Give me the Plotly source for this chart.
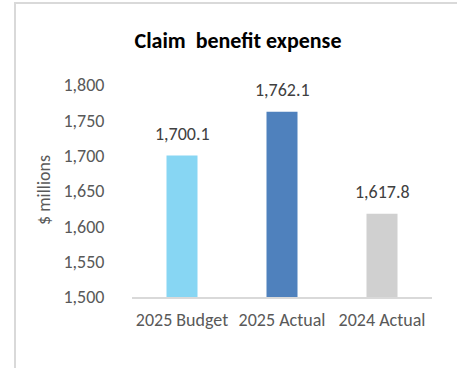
import plotly.graph_objects as go

categories = ["2025 Budget", "2025 Actual", "2024 Actual"]
values = [1700.1, 1762.1, 1617.8]
labels = ["1,700.1", "1,762.1", "1,617.8"]
colors = ["#87D6F3", "#4F81BD", "#D0D0D0"]
tick_vals = [1500, 1550, 1600, 1650, 1700, 1750, 1800]
tick_text = ["1,500", "1,550", "1,600", "1,650", "1,700", "1,750", "1,800"]

W, H = 457, 368
ml, mr, mt, mb = 132, 25, 85, 71
pw, ph = W - ml - mr, H - mt - mb

font = "Carlito, Liberation Sans, sans-serif"

fig = go.Figure(go.Bar(
    x=categories, y=values, base=0,
    marker=dict(color=colors, line=dict(width=0)),
    width=0.31, hoverinfo="x+y",
))

for c, v, t in zip(categories, values, labels):
    fig.add_annotation(x=c, y=v, text=t, showarrow=False, yanchor="middle",
                       yshift=22, font=dict(family=font, size=18, color="#404040"))

fig.add_annotation(xref="paper", yref="paper", x=(44 - ml) / pw, y=1 - (190 - mt) / ph,
                   text="$ millions", textangle=-90, showarrow=False,
                   xanchor="center", yanchor="middle",
                   font=dict(family=font, size=18, color="#595959"))

fig.update_layout(
    width=W, height=H,
    margin=dict(l=ml, r=mr, t=mt, b=mb, pad=0),
    paper_bgcolor="white", plot_bgcolor="white",
    showlegend=False,
    font=dict(family=font, color="#595959"),
    title=dict(text="<b>Claim  benefit expense</b>", x=238 / W, xanchor="center",
               y=1 - 40 / H, yanchor="middle",
               font=dict(family=font, size=22, color="black")),
    xaxis=dict(showline=True, linecolor="#D9D9D9", linewidth=1.5,
               ticks="outside", ticklen=6, tickcolor="rgba(0,0,0,0)",
               tickfont=dict(size=18, color="#595959"), range=[-0.5, 2.5]),
    yaxis=dict(range=[1500, 1800], tickvals=tick_vals, ticktext=tick_text,
               showgrid=False, zeroline=False, showline=False,
               ticks="outside", ticklen=23, tickcolor="rgba(0,0,0,0)",
               tickfont=dict(size=18, color="#595959")),
)

# chart border (left and top visible)
x0 = (15 - ml) / pw
x1 = (W + 5 - ml) / pw
y1 = 1 + (mt - 3) / ph
y0 = 1 + (mt - H - 5) / ph
fig.add_shape(type="rect", xref="paper", yref="paper", x0=x0, x1=x1, y0=y0, y1=y1,
              line=dict(color="#D9D9D9", width=2), fillcolor="rgba(0,0,0,0)", layer="below")

fig.write_html("out.html")
